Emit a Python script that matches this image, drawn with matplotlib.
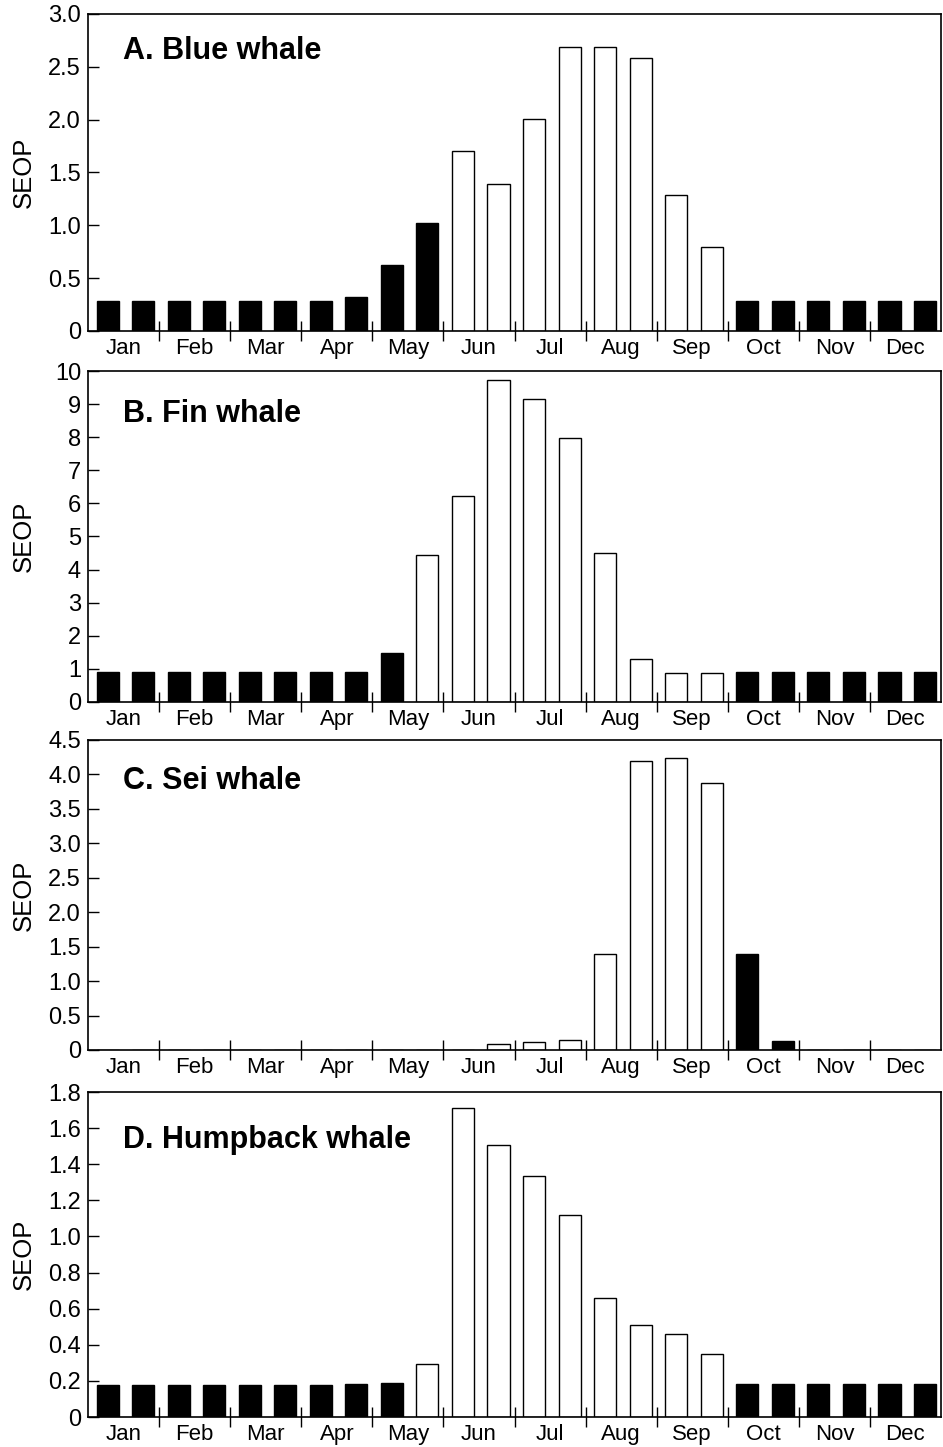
import numpy as np
import matplotlib
matplotlib.use("Agg")
import matplotlib.pyplot as plt
from matplotlib.ticker import FixedLocator, FuncFormatter

plt.rcParams["font.family"] = ["Liberation Sans", "DejaVu Sans"]

MONTHS = ["Jan", "Feb", "Mar", "Apr", "May", "Jun",
          "Jul", "Aug", "Sep", "Oct", "Nov", "Dec"]

# SEOP per half-month period (24 values, Jan first half .. Dec second half)
blue = [0.28, 0.28, 0.28, 0.28, 0.28, 0.28, 0.28, 0.32, 0.62, 1.02, 1.70, 1.39,
        2.01, 2.69, 2.69, 2.58, 1.29, 0.79, 0.28, 0.28, 0.28, 0.28, 0.28, 0.28]
fin = [0.90, 0.90, 0.90, 0.90, 0.90, 0.90, 0.90, 0.90, 1.47, 4.44, 6.21, 9.72,
       9.15, 7.98, 4.50, 1.29, 0.87, 0.87, 0.90, 0.90, 0.90, 0.90, 0.90, 0.90]
sei = [0, 0, 0, 0, 0, 0, 0, 0, 0, 0, 0, 0.08,
       0.11, 0.14, 1.40, 4.20, 4.24, 3.87, 1.39, 0.13, 0, 0, 0, 0]
humpback = [0.176, 0.176, 0.176, 0.176, 0.176, 0.176, 0.176, 0.182, 0.19, 0.294,
            1.714, 1.505, 1.336, 1.121, 0.662, 0.510, 0.462, 0.349,
            0.183, 0.183, 0.183, 0.183, 0.183, 0.183]

# True = filled (black) period, False = open (white) period
blue_filled = [True] * 10 + [False] * 8 + [True] * 6
fin_filled = [True] * 9 + [False] * 9 + [True] * 6
sei_filled = [False] * 18 + [True] * 2 + [False] * 4
humpback_filled = [True] * 9 + [False] * 9 + [True] * 6

titles = ["A. Blue whale", "B. Fin whale", "C. Sei whale", "D. Humpback whale"]
series = [blue, fin, sei, humpback]
filled = [blue_filled, fin_filled, sei_filled, humpback_filled]
y_max = [3.0, 10, 4.5, 1.8]
y_step = [0.5, 1, 0.5, 0.2]
y_fmt = ["{:.1f}", "{:.0f}", "{:.1f}", "{:.1f}"]

# axes boxes in figure fraction: left, bottom, width, height
boxes = [
    (0.0933, 0.7713, 0.9046, 0.2191),
    (0.0933, 0.5149, 0.9046, 0.2287),
    (0.0933, 0.2744, 0.9046, 0.2142),
    (0.0933, 0.0207, 0.9046, 0.2246),
]
title_y = [0.93, 0.915, 0.915, 0.90]


def fmt_factory(fmt):
    def f(v, pos):
        if abs(v) < 1e-9:
            return "0"
        return fmt.format(v)
    return f


fig = plt.figure(figsize=(9.43, 14.47), dpi=100)

for vals, fill, title, ymax, step, fmt, box, ty in zip(
        series, filled, titles, y_max, y_step, y_fmt, boxes, title_y):
    ax = fig.add_axes(box)
    x = np.arange(len(vals)) + 0.55
    colors = ["black" if f else "white" for f in fill]
    ax.bar(x, vals, width=0.62, color=colors, edgecolor="black",
           linewidth=1.0, zorder=2)
    ax.set_xlim(0, 24)
    ax.set_ylim(0, ymax)

    ax.xaxis.set_major_locator(FixedLocator(np.arange(2, 24, 2)))
    ax.xaxis.set_major_formatter(FuncFormatter(lambda v, p: ""))
    ax.set_xticks(np.arange(1, 24, 2), minor=True)
    ax.set_xticklabels(MONTHS, minor=True)
    ax.tick_params(axis="x", which="major", direction="inout", length=15,
                   width=1.0)
    ax.tick_params(axis="x", which="minor", length=0, labelsize=16, pad=5)

    ax.set_yticks(np.arange(0, ymax + step / 2, step))
    ax.yaxis.set_major_formatter(FuncFormatter(fmt_factory(fmt)))
    ax.tick_params(axis="y", direction="in", length=8, width=1.0,
                   labelsize=17, pad=5)

    for s in ax.spines.values():
        s.set_linewidth(1.2)

    ax.set_ylabel("SEOP", fontsize=18.5)
    ax.yaxis.set_label_coords(-0.061, 0.5)
    ax.text(0.041, ty, title, transform=ax.transAxes, fontsize=22,
            fontweight="bold", va="top", ha="left")

fig.savefig("out.png", dpi=100)
